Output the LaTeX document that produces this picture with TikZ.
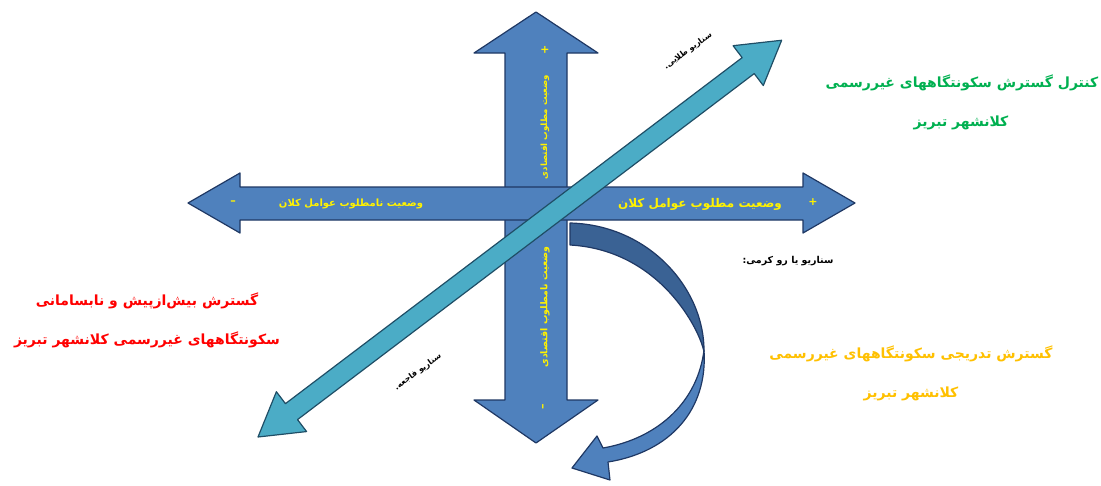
\documentclass[tikz,border=0pt]{standalone}
\usepackage{fontspec}
\newfontfamily\arabicfont[Script=Arabic]{DejaVu Sans}
\TeXXeTstate=1
\definecolor{mainblue}{HTML}{4F81BD}
\definecolor{darkblue}{HTML}{3A6294}
\definecolor{navy}{HTML}{1F3864}
\definecolor{teal}{HTML}{4BACC6}
\definecolor{tealedge}{HTML}{1F4E66}
\definecolor{lgreen}{HTML}{00B050}
\definecolor{lred}{HTML}{FF0000}
\definecolor{lorange}{HTML}{FFC000}
\begin{document}
\begin{tikzpicture}[x=1pt,y=-1pt,
  shapefill/.style={fill=mainblue,draw=navy,line width=1.2pt,line join=round},
  arrowtext/.style={text=yellow,font=\arabicfont\bfseries\fontsize{9.4}{10}\selectfont,inner sep=0pt},
  signtext/.style={text=yellow,font=\arabicfont\bfseries\fontsize{11}{11}\selectfont,inner sep=0pt},
  bigtext/.style={font=\arabicfont\bfseries\fontsize{14}{16}\selectfont,inner sep=0pt},
  scentext/.style={text=black,font=\arabicfont\bfseries\fontsize{8}{9}\selectfont,inner sep=0pt}]
\useasboundingbox (0,0) rectangle (1101,485);
% vertical double arrow
\draw[shapefill] (536,12) -- (598,53) -- (567,53) -- (567,400) -- (598,400) -- (536,443)
  -- (474,400) -- (505,400) -- (505,53) -- (474,53) -- cycle;
% horizontal double arrow
\draw[shapefill] (188,203) -- (240,173) -- (240,187) -- (803,187) -- (803,173) -- (855,203)
  -- (803,233) -- (803,220) -- (240,220) -- (240,233) -- cycle;
% curved arrow: dark back part
\draw[fill=darkblue,draw=navy,line width=1.2pt,line join=round]
  (570,223) .. controls (650,225) and (705,290) .. (704,352)
  .. controls (700,330) and (660,250) .. (570,245) -- cycle;
% curved arrow: light front part with head
\draw[shapefill]
  (704,350) .. controls (708,410) and (670,452) .. (608,462)
  -- (610,480) -- (572,468) -- (597,436) -- (603,448)
  .. controls (660,438) and (698,400) .. (704,350) -- cycle;
% diagonal double arrow
\begin{scope}[shift={(258,437)},rotate=37.15]
\draw[fill=teal,draw=tealedge,line width=1.2pt,line join=round]
  (0,0) -- (42,-25) -- (42,-10) -- (615,-10) -- (615,-25) -- (657,0)
  -- (615,25) -- (615,10) -- (42,10) -- (42,25) -- cycle;
\end{scope}
% texts in arrows
\node[arrowtext,font=\arabicfont\bfseries\fontsize{8.6}{10}\selectfont,rotate=90] (vtop) at (545,127) {\beginR وضعیت مطلوب اقتصادی\endR};
\node[arrowtext,rotate=90] (vbot) at (545,307) {\beginR وضعیت نامطلوب اقتصادی\endR};
\node[signtext,rotate=90] (vplus) at (545,50) {+};
\node[signtext,rotate=90] (vminus) at (544,407) {–};
\node[arrowtext,font=\arabicfont\bfseries\fontsize{10}{10}\selectfont] (hleft) at (351,204) {\beginR وضعیت نامطلوب عوامل کلان\endR};
\node[arrowtext,font=\arabicfont\bfseries\fontsize{12}{12}\selectfont] (hright) at (700,204) {\beginR وضعیت مطلوب عوامل کلان\endR};
\node[signtext] (hminus) at (233,203) {–};
\node[signtext] (hplus) at (813,202) {+};
% scenario labels
\node[scentext,rotate=36] (sgold) at (688,51) {\beginR سناریو طلایی.\endR};
\node[scentext,font=\arabicfont\bfseries\fontsize{9.5}{10}\selectfont] (smid) at (788,261) {\beginR سناریو یا رو کرمی:\endR};
\node[scentext,rotate=36] (sdis) at (418,372) {\beginR سناریو فاجعه.\endR};
% outcome labels
\node[bigtext,text=lgreen] (g1) at (962,83) {\beginR کنترل گسترش سکونتگاههای غیررسمی\endR};
\node[bigtext,text=lgreen] (g2) at (961,123) {\beginR کلانشهر تبریز\endR};
\node[bigtext,text=lred] (r1) at (147,301) {\beginR گسترش بیش‌ازپیش و نابسامانی\endR};
\node[bigtext,text=lred] (r2) at (147,340) {\beginR سکونتگاههای غیررسمی کلانشهر تبریز\endR};
\node[bigtext,text=lorange] (o1) at (911,354) {\beginR گسترش تدریجی سکونتگاههای غیررسمی\endR};
\node[bigtext,text=lorange] (o2) at (911,394) {\beginR کلانشهر تبریز\endR};
\end{tikzpicture}
\end{document}
